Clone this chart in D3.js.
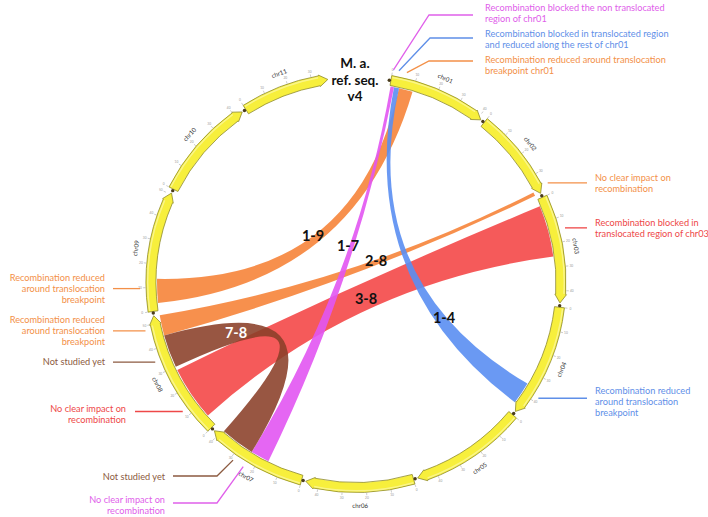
<!DOCTYPE html>
<html>
<head>
<meta charset="utf-8">
<script src="https://cdn.jsdelivr.net/npm/d3@7"></script>
<style>
  html, body { margin: 0; padding: 0; background: #ffffff; }
  svg { display: block; }
</style>
</head>
<body>
<svg id="chart" width="708" height="517"></svg>
<script>
// ---- data -------------------------------------------------------------
const chromosomes  = ["chr01","chr02","chr03","chr04","chr05","chr06","chr07","chr08","chr09","chr10","chr11"];
const chromLengths = [41.3, 38.1, 45.2, 47.8, 48.2, 45.5, 42.2, 53.4, 50.7, 43.6, 36.7]; // Mb
const tickStepMb   = 10;

// translocation links: [chromosome, start Mb, end Mb]
const linkNames   = ["1-9", "2-8", "3-8", "1-4", "1-7", "7-8"];
const linkSources = [["chr01", 4.0, 10.0], ["chr02", 36.4, 38.0], ["chr03", 3.1, 25.5],
                     ["chr01", 1.8, 4.0],  ["chr01", 0.3, 1.8],   ["chr07", 24.2, 39.1]];
const linkTargets = [["chr09", 3.3, 13.7], ["chr08", 44.3, 53.2], ["chr08", 4.8, 28.4],
                     ["chr04", 35.2, 44.9], ["chr07", 16.0, 24.2], ["chr08", 29.9, 44.3]];

// notes on the effect of each breakpoint: text lines and the locus they point at
const noteTexts = [
  ["Recombination blocked the non translocated", "region of chr01"],
  ["Recombination blocked in translocated region", "and reduced  along the rest of chr01"],
  ["Recombination reduced  around translocation", "breakpoint chr01"],
  ["No clear impact on", "recombination"],
  ["Recombination blocked in", "translocated region of chr03"],
  ["Recombination reduced", "around translocation", "breakpoint"],
  ["Recombination reduced", "around translocation", "breakpoint"],
  ["Recombination reduced", "around translocation", "breakpoint"],
  ["Not studied yet"],
  ["No clear impact on", "recombination"],
  ["Not studied yet"],
  ["No clear impact on", "recombination"]
];
const noteLoci = [["chr01", 0.3], ["chr01", 2.5], ["chr01", 5.7], ["chr02", 35.6], ["chr03", 14.8],
                  ["chr04", 38.0], ["chr09", 9.7], ["chr08", 48.0], ["chr08", 35.0], ["chr08", 12.6],
                  ["chr07", 28.8], ["chr07", 24.0]];
const noteKinds = ["1-7", "1-4", "1-9", "2-8", "3-8", "1-4", "1-9", "2-8", "7-8", "3-8", "7-8", "1-7"];

const centreTitle = ["M. a.", "ref. seq.", "v4"];

// ---- styles & layout --------------------------------------------------
const W = 708, H = 517;
const cx = 356, cy = 282.5;
const rIn = 200, rOut = 210, rRibbon = 199;
const startDeg = 9.8, endDeg = 352.1, gapDeg = 1.2;

const ribbonColor = { "1-9": "#f6843a", "2-8": "#f6843a", "3-8": "#f44848", "1-4": "#5a8ef2", "1-7": "#e255f2", "7-8": "#8a3f28" };
const noteColor   = { "1-9": "#f39048", "2-8": "#f39048", "3-8": "#ee4848", "1-4": "#5f8fe8", "1-7": "#e060ea", "7-8": "#8c5a40" };
const linkLabelPos = { "1-9": [313, 235], "1-7": [348, 245], "2-8": [376, 260], "3-8": [366, 298], "1-4": [444, 317], "7-8": [236, 332] };

// note placement: text anchor point, first line centre, optional elbow, end of the leader next to the text
const noteLayout = [
  { x: 485, y: 7.5,  anchor: "start", elbow: [429, 15], lineEnd: [473, 15] },
  { x: 485, y: 33,   anchor: "start", elbow: [430, 38], lineEnd: [473, 38] },
  { x: 485, y: 59,   anchor: "start", elbow: [429, 61], lineEnd: [473, 61] },
  { x: 595, y: 177,  anchor: "start", lineEndX: 587 },
  { x: 595, y: 222.5,anchor: "start", lineEndX: 587 },
  { x: 595, y: 390,  anchor: "start", lineEndX: 587 },
  { x: 105, y: 277,  anchor: "end",   lineEndX: 113 },
  { x: 105, y: 319,  anchor: "end",   lineEndX: 113 },
  { x: 105, y: 361,  anchor: "end",   lineEndX: 113 },
  { x: 126, y: 408,  anchor: "end",   lineEndX: 135 },
  { x: 165, y: 476,  anchor: "end",   elbow: [217, 476], lineEnd: [173, 476] },
  { x: 165, y: 499,  anchor: "end",   elbow: [217, 503], lineEnd: [173, 503] }
];

// ---- genome -> angle scale ---------------------------------------------
const totalMb = d3.sum(chromLengths);
const degPerMb = (endDeg - startDeg - gapDeg * (chromosomes.length - 1)) / totalMb;
const chromStart = {};
const chromLen = {};
{
  let acc = startDeg;
  chromosomes.forEach((c, i) => {
    chromStart[c] = acc;
    chromLen[c] = chromLengths[i];
    acc += chromLengths[i] * degPerMb + gapDeg;
  });
}
const rad = d => d * Math.PI / 180;
function angleOf(chr, mb) {
  const s = d3.scaleLinear().domain([0, chromLen[chr]]).range([chromStart[chr], chromStart[chr] + chromLen[chr] * degPerMb]);
  return rad(s(mb));
}
const pt = (r, a) => [cx + r * Math.sin(a), cy - r * Math.cos(a)];

// ---- drawing ------------------------------------------------------------
const svg = d3.select("#chart");
const font = "Lato, 'Open Sans', 'DejaVu Sans', sans-serif";

// ribbons
const ribbon = d3.ribbon().radius(rRibbon);
const gLinks = svg.append("g").attr("transform", `translate(${cx},${cy})`);
linkNames.forEach((name, i) => {
  const [sc, s0, s1] = linkSources[i];
  const [tc, t0, t1] = linkTargets[i];
  gLinks.append("path")
    .attr("d", ribbon({
      source: { startAngle: angleOf(sc, s0), endAngle: angleOf(sc, s1) },
      target: { startAngle: angleOf(tc, t0), endAngle: angleOf(tc, t1) }
    }))
    .attr("fill", ribbonColor[name])
    .attr("fill-opacity", name === "7-8" ? 0.88 : 0.9);
});

// chromosome arrows
function arrowPath(a0, a1) {
  const head = rad(2.4);
  const ah = a1 - head;
  const rm = (rIn + rOut) / 2;
  const p = d3.path();
  const q = (r, a) => [r * Math.sin(a), -r * Math.cos(a)];
  p.moveTo(...q(rOut, a0));
  p.arc(0, 0, rOut, a0 - Math.PI / 2, ah - Math.PI / 2);
  p.lineTo(...q(rOut + 0.8, ah));
  p.lineTo(...q(rm, a1));
  p.lineTo(...q(rIn - 0.8, ah));
  p.lineTo(...q(rIn, ah));
  p.arc(0, 0, rIn, ah - Math.PI / 2, a0 - Math.PI / 2, true);
  p.closePath();
  return p.toString();
}
const gChr = svg.append("g").attr("transform", `translate(${cx},${cy})`);
chromosomes.forEach(c => {
  const a0 = angleOf(c, 0), a1 = angleOf(c, chromLen[c]);
  gChr.append("path")
    .attr("d", arrowPath(a0, a1))
    .attr("fill", "#f7ef3c")
    .attr("stroke", "#8e8a2c")
    .attr("stroke-width", 0.8)
    .attr("stroke-linejoin", "round");
  // light upper highlight along the band
  gChr.append("path")
    .attr("d", d3.arc()({ innerRadius: rOut - 2.5, outerRadius: rOut - 1, startAngle: a0 + rad(0.3), endAngle: a1 - rad(2.6) }))
    .attr("fill", "#fbf8a8")
    .attr("opacity", 0.7);
  // start marker
  const m = [((rIn + rOut) / 2) * Math.sin(a0 - rad(0.45)), -((rIn + rOut) / 2) * Math.cos(a0 - rad(0.45))];
  gChr.append("circle").attr("cx", m[0]).attr("cy", m[1]).attr("r", 1.7).attr("fill", "#4a3c1c");
});

// ticks
chromosomes.forEach(c => {
  const ticks = d3.range(0, chromLen[c] + 0.001, tickStepMb);
  ticks.forEach(t => {
    const a = angleOf(c, t);
    const [x1, y1] = pt(rOut + 0.5, a), [x2, y2] = pt(rOut + 3, a);
    svg.append("line").attr("x1", x1).attr("y1", y1).attr("x2", x2).attr("y2", y2)
      .attr("stroke", "#a8a8a8").attr("stroke-width", 0.6);
    const [lx, ly] = pt(rOut + 6, a);
    svg.append("text").attr("x", lx).attr("y", ly)
      .attr("text-anchor", "middle").attr("dominant-baseline", "central")
      .attr("font-family", font).attr("font-size", 3.2).attr("fill", "#9a9a9a")
      .text(t);
  });
});

// chromosome names
chromosomes.forEach(c => {
  const a = angleOf(c, chromLen[c] / 2);
  const deg = a * 180 / Math.PI;
  const flip = deg > 90 && deg < 270;
  const [x, y] = pt(rOut + 13, a);
  svg.append("text")
    .attr("transform", `translate(${x},${y}) rotate(${flip ? deg - 180 : deg})`)
    .attr("text-anchor", "middle").attr("dominant-baseline", "central")
    .attr("font-family", font).attr("font-size", 6.2).attr("fill", "#333")
    .text(c);
});

// link labels
linkNames.forEach(name => {
  const [x, y] = linkLabelPos[name];
  svg.append("text").attr("x", x).attr("y", y)
    .attr("text-anchor", "middle").attr("dominant-baseline", "central")
    .attr("font-family", font).attr("font-weight", 700).attr("font-size", 14.5)
    .attr("fill", name === "7-8" ? "#ffffff" : "#111")
    .text(name);
});

// centre title
centreTitle.forEach((t, i) => {
  svg.append("text").attr("x", 355).attr("y", 63 + i * 16.5)
    .attr("text-anchor", "middle").attr("dominant-baseline", "central")
    .attr("font-family", font).attr("font-weight", 700).attr("font-size", 13.5)
    .attr("fill", "#111").text(t);
});

// notes with leader lines
noteTexts.forEach((lines, i) => {
  const L = noteLayout[i];
  const col = noteColor[noteKinds[i]];
  const [chr, mb] = noteLoci[i];
  const a = angleOf(chr, mb);
  const [sx, sy] = pt(216, a);
  let pts;
  if (L.elbow) pts = [[sx, sy], L.elbow, L.lineEnd];
  else pts = [[sx, sy], [L.lineEndX, sy]];
  svg.append("path").attr("d", d3.line()(pts))
    .attr("fill", "none").attr("stroke", col).attr("stroke-width", 1.3);
  lines.forEach((t, j) => {
    svg.append("text").attr("x", L.x).attr("y", L.y + j * 11.3)
      .attr("text-anchor", L.anchor).attr("dominant-baseline", "central")
      .attr("font-family", font).attr("font-size", 9.2).attr("fill", col)
      .text(t);
  });
});
</script>
</body>
</html>
